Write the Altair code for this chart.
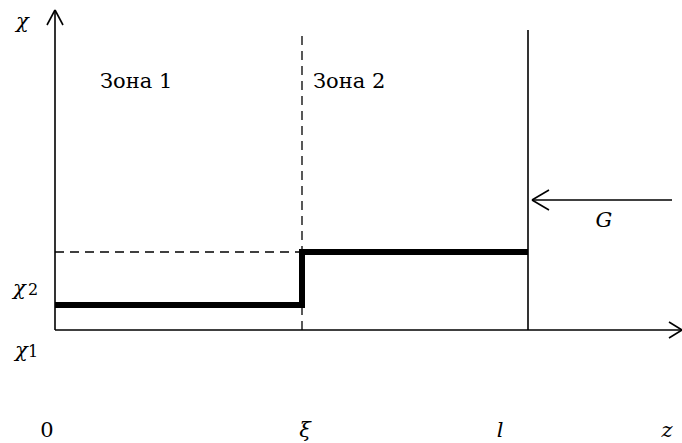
import altair as alt
import pandas as pd

# Schematic coordinates (diagram units; z to the right, chi upwards, origin at axis crossing)
XI = 247          # zone boundary ξ
L = 473           # outlet wall l
Z_END = 627       # end of the z axis arrow
CHI_TOP = 320     # end of the chi axis arrow
WALL_TOP = 300    # top of the vertical boundary lines
CHI_LOW = 25      # level in zone 1
CHI_HIGH = 78     # level in zone 2
G_Y = 130         # height of the flow arrow G
G_START = 617
G_TIP = 477

# thin solid segments: axes, arrowheads, wall, flow arrow
thin_x = [0, 0, 0, 0, Z_END, Z_END, L, G_START, G_TIP, G_TIP]
thin_y = [0, CHI_TOP, CHI_TOP, 0, 0, 0, 0, G_Y, G_Y, G_Y]
thin_x2 = [0, -8, 8, Z_END, Z_END - 13, Z_END - 13, L, G_TIP, G_TIP + 17, G_TIP + 17]
thin_y2 = [CHI_TOP, 305, 305, 0, 8, -8, WALL_TOP, G_Y, G_Y + 10, G_Y - 10]

# dashed segments
dash_x = [XI, 0]
dash_y = [0, CHI_HIGH]
dash_x2 = [XI, XI]
dash_y2 = [WALL_TOP, CHI_HIGH]

# thick step profile of chi(z)
step_z = [0, XI, XI, L]
step_chi = [CHI_LOW, CHI_LOW, CHI_HIGH, CHI_HIGH]

# labels
lab_text = ["Зона 1", "Зона 2"]
lab_x = [45, 258]
lab_y = [242, 242]

chi_text = ["χ", "χ", "χ"]
chi_x = [-39, -42, -40]
chi_y = [302, 35, -27]

ital_text = ["ξ", "l", "z", "G"]
ital_x = [250, 445, 612, 549]
ital_y = [-107, -107, -107, 103]

sub_text = ["2", "1"]
sub_x = [-27, -27]
sub_y = [35, -27]

zero_text = ["0"]
zero_x = [-8]
zero_y = [-107]

xs = alt.Scale(domain=[-55, 627], nice=False, zero=False)
ys = alt.Scale(domain=[-113, 330], nice=False, zero=False)

thin = pd.DataFrame({"x": thin_x, "y": thin_y, "x2": thin_x2, "y2": thin_y2})
dash = pd.DataFrame({"x": dash_x, "y": dash_y, "x2": dash_x2, "y2": dash_y2})
step = pd.DataFrame({"z": step_z, "chi": step_chi, "o": list(range(len(step_z)))})
labs = pd.DataFrame({"t": lab_text, "x": lab_x, "y": lab_y})
chis = pd.DataFrame({"t": chi_text, "x": chi_x, "y": chi_y})
itals = pd.DataFrame({"t": ital_text, "x": ital_x, "y": ital_y})
subs = pd.DataFrame({"t": sub_text, "x": sub_x, "y": sub_y})
zeros = pd.DataFrame({"t": zero_text, "x": zero_x, "y": zero_y})


def seg_enc():
    return dict(
        x=alt.X("x:Q", scale=xs, axis=None),
        y=alt.Y("y:Q", scale=ys, axis=None),
        x2="x2:Q",
        y2="y2:Q",
    )


thin_layer = alt.Chart(thin).mark_rule(color="black", strokeWidth=1.6).encode(**seg_enc())
dash_layer = alt.Chart(dash).mark_rule(color="black", strokeWidth=1.3, strokeDash=[9, 6]).encode(**seg_enc())
step_layer = alt.Chart(step).mark_line(color="black", strokeWidth=6, strokeJoin="miter", strokeCap="butt").encode(
    x=alt.X("z:Q", scale=xs, axis=None),
    y=alt.Y("chi:Q", scale=ys, axis=None),
    order="o:Q",
)

FONT = "DejaVu Serif"


def text_layer(df, size, style, align):
    return alt.Chart(df).mark_text(
        font=FONT, fontSize=size, fontStyle=style, align=align, baseline="alphabetic", color="black"
    ).encode(
        x=alt.X("x:Q", scale=xs, axis=None),
        y=alt.Y("y:Q", scale=ys, axis=None),
        text="t:N",
    )


zone_layer = text_layer(labs, 21, "normal", "left")
chi_layer = text_layer(chis, 21, "italic", "left")
ital_layer = text_layer(itals, 21, "italic", "center")
sub_layer = text_layer(subs, 16, "normal", "left")
zero_layer = text_layer(zeros, 21, "normal", "center")

chart = alt.layer(
    thin_layer, dash_layer, step_layer, zone_layer, chi_layer, ital_layer, sub_layer, zero_layer
).properties(
    width=682, height=443, padding=0, autosize=alt.AutoSizeParams(type="none"), background="white"
).configure_view(stroke=None)

chart.save("out.html", embed_options={"renderer": "svg", "actions": False})
